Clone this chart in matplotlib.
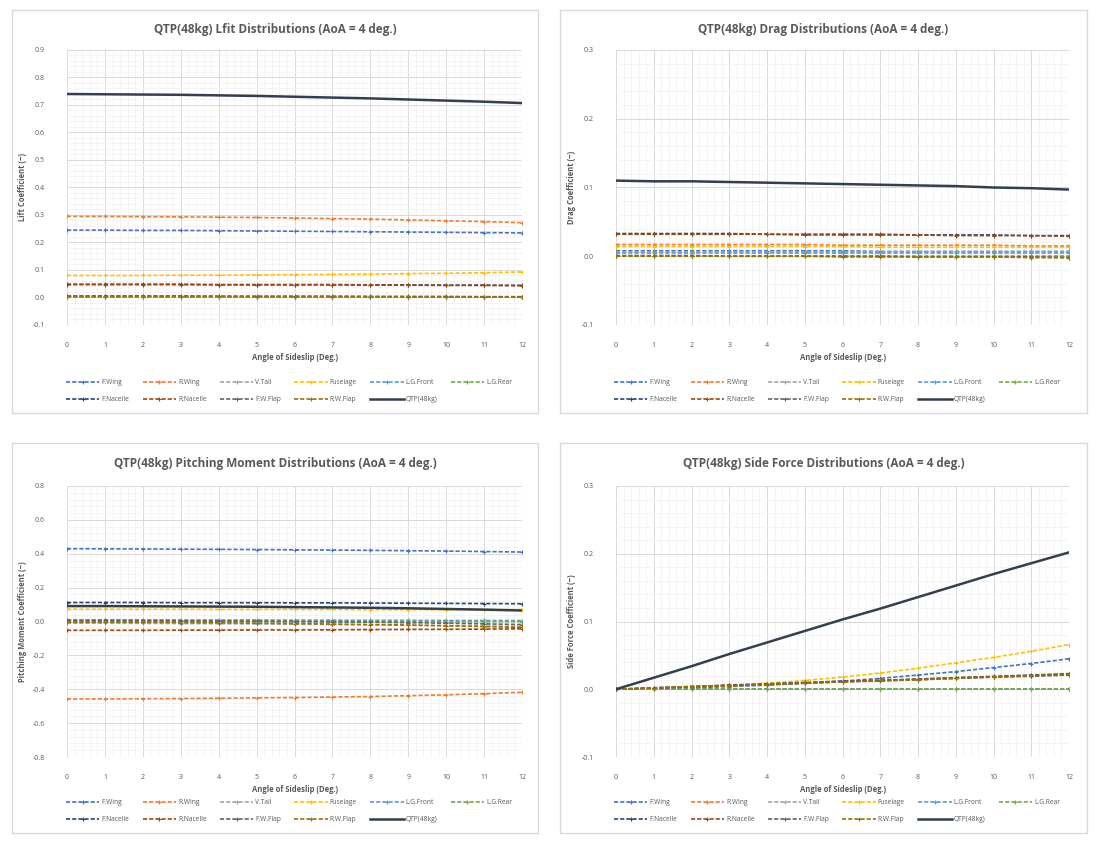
import matplotlib
matplotlib.use('Agg')
import matplotlib.pyplot as plt
from matplotlib.patches import Rectangle
from matplotlib.ticker import MultipleLocator

plt.rcParams['font.family'] = ['Open Sans', 'DejaVu Sans']

# angle of sideslip (deg)
beta = [0, 1, 2, 3, 4, 5, 6, 7, 8, 9, 10, 11, 12]

names = ['F.Wing', 'R.Wing', 'V.Tail', 'Fuselage', 'L.G.Front', 'L.G.Rear',
         'F.Nacelle', 'R.Nacelle', 'F.W.Flap', 'R.W.Flap', 'QTP(48kg)']
colors = ['#4472C4', '#ED7D31', '#A5A5A5', '#FFC000', '#5B9BD5', '#70AD47',
          '#264478', '#9E480E', '#636363', '#997300', '#333F50']

# ---- lift coefficient
cl_fwing = [0.245, 0.245, 0.244, 0.244, 0.243, 0.242, 0.241, 0.240, 0.239, 0.238, 0.237, 0.236, 0.235]
cl_rwing = [0.295, 0.295, 0.294, 0.293, 0.292, 0.291, 0.289, 0.287, 0.285, 0.282, 0.279, 0.276, 0.272]
cl_vtail = [0.000, 0.000, 0.000, 0.000, 0.000, 0.000, 0.000, 0.000, 0.000, 0.000, 0.000, 0.000, 0.000]
cl_fuse = [0.080, 0.080, 0.080, 0.081, 0.081, 0.082, 0.083, 0.084, 0.085, 0.087, 0.088, 0.090, 0.093]
cl_lgf = [0.001, 0.001, 0.001, 0.001, 0.001, 0.001, 0.001, 0.001, 0.001, 0.001, 0.001, 0.001, 0.001]
cl_lgr = [0.002, 0.002, 0.002, 0.002, 0.002, 0.002, 0.002, 0.002, 0.002, 0.002, 0.002, 0.002, 0.002]
cl_fnac = [0.048, 0.048, 0.048, 0.048, 0.047, 0.047, 0.047, 0.047, 0.046, 0.046, 0.045, 0.045, 0.044]
cl_rnac = [0.047, 0.047, 0.047, 0.047, 0.046, 0.046, 0.046, 0.046, 0.045, 0.045, 0.044, 0.044, 0.043]
cl_fwf = [0.006, 0.006, 0.006, 0.006, 0.005, 0.005, 0.005, 0.005, 0.004, 0.004, 0.004, 0.003, 0.003]
cl_rwf = [0.004, 0.004, 0.004, 0.004, 0.004, 0.003, 0.003, 0.003, 0.003, 0.002, 0.002, 0.002, 0.002]
cl_qtp = [0.740, 0.739, 0.738, 0.737, 0.735, 0.733, 0.730, 0.727, 0.724, 0.720, 0.716, 0.712, 0.707]

# ---- drag coefficient
cd_fwing = [0.008, 0.008, 0.008, 0.008, 0.008, 0.008, 0.008, 0.007, 0.007, 0.007, 0.007, 0.007, 0.007]
cd_rwing = [0.017, 0.017, 0.017, 0.017, 0.017, 0.017, 0.016, 0.016, 0.016, 0.016, 0.016, 0.015, 0.015]
cd_vtail = [0.006, 0.006, 0.006, 0.006, 0.006, 0.006, 0.006, 0.006, 0.006, 0.006, 0.006, 0.006, 0.006]
cd_fuse = [0.014, 0.014, 0.014, 0.014, 0.014, 0.014, 0.014, 0.013, 0.013, 0.013, 0.013, 0.013, 0.013]
cd_lgf = [0.005, 0.005, 0.005, 0.005, 0.005, 0.005, 0.005, 0.005, 0.005, 0.005, 0.005, 0.005, 0.005]
cd_lgr = [0.001, 0.001, 0.001, 0.001, 0.001, 0.001, 0.001, 0.001, 0.001, 0.001, 0.001, 0.001, 0.001]
cd_fnac = [0.033, 0.033, 0.033, 0.033, 0.032, 0.032, 0.032, 0.032, 0.031, 0.031, 0.031, 0.030, 0.030]
cd_rnac = [0.032, 0.032, 0.032, 0.032, 0.032, 0.031, 0.031, 0.031, 0.031, 0.030, 0.030, 0.030, 0.029]
cd_fwf = [0.001, 0.001, 0.001, 0.000, 0.000, 0.000, 0.000, 0.000, -0.001, -0.001, -0.001, -0.001, -0.002]
cd_rwf = [0.000, 0.000, 0.000, 0.000, 0.000, 0.000, -0.001, -0.001, -0.001, -0.001, -0.001, -0.002, -0.002]
cd_qtp = [0.110, 0.109, 0.109, 0.108, 0.107, 0.106, 0.105, 0.104, 0.103, 0.102, 0.100, 0.099, 0.097]

# ---- pitching moment coefficient
cm_fwing = [0.430, 0.429, 0.428, 0.427, 0.426, 0.425, 0.423, 0.422, 0.420, 0.418, 0.416, 0.413, 0.410]
cm_rwing = [-0.457, -0.457, -0.456, -0.455, -0.453, -0.451, -0.449, -0.446, -0.443, -0.438, -0.433, -0.426, -0.418]
cm_vtail = [-0.010, -0.010, -0.011, -0.012, -0.013, -0.014, -0.016, -0.018, -0.020, -0.022, -0.025, -0.027, -0.030]
cm_fuse = [0.072, 0.072, 0.072, 0.072, 0.071, 0.071, 0.071, 0.071, 0.070, 0.070, 0.070, 0.070, 0.070]
cm_lgf = [0.010, 0.010, 0.010, 0.009, 0.009, 0.009, 0.008, 0.008, 0.007, 0.007, 0.006, 0.006, 0.005]
cm_lgr = [0.002, 0.002, 0.002, 0.002, 0.002, 0.001, 0.001, 0.001, 0.001, 0.001, 0.000, 0.000, 0.000]
cm_fnac = [0.112, 0.112, 0.112, 0.111, 0.111, 0.111, 0.110, 0.110, 0.109, 0.108, 0.107, 0.106, 0.105]
cm_rnac = [-0.052, -0.052, -0.052, -0.051, -0.051, -0.050, -0.050, -0.049, -0.048, -0.047, -0.046, -0.045, -0.043]
cm_fwf = [0.006, 0.006, 0.005, 0.004, 0.003, 0.002, 0.000, -0.002, -0.004, -0.007, -0.010, -0.014, -0.018]
cm_rwf = [-0.004, -0.004, -0.005, -0.006, -0.008, -0.010, -0.012, -0.015, -0.018, -0.021, -0.025, -0.030, -0.035]
cm_qtp = [0.091, 0.091, 0.090, 0.089, 0.088, 0.087, 0.085, 0.083, 0.081, 0.078, 0.074, 0.070, 0.065]

# ---- side force coefficient
cy_fwing = [0.000, 0.001, 0.002, 0.004, 0.006, 0.009, 0.012, 0.016, 0.021, 0.026, 0.032, 0.038, 0.045]
cy_rwing = [0.000, 0.000, 0.000, 0.000, 0.000, 0.000, 0.000, 0.000, 0.000, 0.000, 0.000, 0.000, 0.000]
cy_vtail = [0.000, 0.000, 0.000, 0.000, 0.000, 0.000, 0.000, 0.000, 0.000, 0.000, 0.000, 0.000, 0.000]
cy_fuse = [0.000, 0.001, 0.003, 0.006, 0.009, 0.013, 0.018, 0.024, 0.031, 0.039, 0.047, 0.056, 0.066]
cy_lgf = [0.000, 0.000, 0.000, 0.000, 0.000, 0.000, 0.000, 0.000, 0.000, 0.000, 0.000, 0.000, 0.000]
cy_lgr = [0.000, 0.000, 0.000, 0.000, 0.000, 0.000, 0.000, 0.000, 0.000, 0.000, 0.000, 0.000, 0.000]
cy_fnac = [0.000, 0.002, 0.004, 0.006, 0.008, 0.010, 0.012, 0.013, 0.015, 0.017, 0.019, 0.021, 0.023]
cy_rnac = [0.000, 0.002, 0.004, 0.006, 0.007, 0.009, 0.011, 0.013, 0.015, 0.017, 0.018, 0.020, 0.022]
cy_fwf = [0.000, 0.002, 0.003, 0.005, 0.007, 0.009, 0.011, 0.012, 0.014, 0.016, 0.018, 0.019, 0.021]
cy_rwf = [0.000, 0.002, 0.004, 0.005, 0.007, 0.009, 0.011, 0.013, 0.014, 0.016, 0.018, 0.020, 0.022]
cy_qtp = [0.000, 0.017, 0.034, 0.052, 0.069, 0.086, 0.103, 0.119, 0.136, 0.153, 0.170, 0.186, 0.202]

panels = [
    dict(title='QTP(48kg) Lfit Distributions (AoA = 4 deg.)', ylabel='Lift Coefficient (~)',
         ylim=(-0.1, 0.9), major=0.1,
         data=[cl_fwing, cl_rwing, cl_vtail, cl_fuse, cl_lgf, cl_lgr, cl_fnac, cl_rnac, cl_fwf, cl_rwf, cl_qtp]),
    dict(title='QTP(48kg) Drag Distributions (AoA = 4 deg.)', ylabel='Drag Coefficient (~)',
         ylim=(-0.1, 0.3), major=0.1,
         data=[cd_fwing, cd_rwing, cd_vtail, cd_fuse, cd_lgf, cd_lgr, cd_fnac, cd_rnac, cd_fwf, cd_rwf, cd_qtp]),
    dict(title='QTP(48kg) Pitching Moment Distributions (AoA = 4 deg.)', ylabel='Pitching Moment Coefficient (~)',
         ylim=(-0.8, 0.8), major=0.2,
         data=[cm_fwing, cm_rwing, cm_vtail, cm_fuse, cm_lgf, cm_lgr, cm_fnac, cm_rnac, cm_fwf, cm_rwf, cm_qtp]),
    dict(title='QTP(48kg) Side Force Distributions (AoA = 4 deg.)', ylabel='Side Force Coefficient (~)',
         ylim=(-0.1, 0.3), major=0.1,
         data=[cy_fwing, cy_rwing, cy_vtail, cy_fuse, cy_lgf, cy_lgr, cy_fnac, cy_rnac, cy_fwf, cy_rwf, cy_qtp]),
]

W, H = 1099, 848
fig = plt.figure(figsize=(W / 100, H / 100), dpi=100)

# pixel boxes: (panel box), (plot area)
boxes = [((12, 10, 538, 413), (67, 50, 522, 325)),
         ((560, 10, 1087, 413), (616, 50, 1069, 325)),
         ((12, 443, 538, 833), (67, 486, 522, 757)),
         ((560, 443, 1087, 833), (616, 486, 1069, 757))]

txt = '#595959'
order = [0, 6, 1, 7, 2, 8, 3, 9, 4, 10, 5]

for p, (pb, ab) in zip(panels, boxes):
    # chart border
    fig.add_artist(Rectangle((pb[0] / W, 1 - pb[3] / H), (pb[2] - pb[0]) / W, (pb[3] - pb[1]) / H,
                             transform=fig.transFigure, fill=False, edgecolor='#D9D9D9', lw=1))
    ax = fig.add_axes([ab[0] / W, 1 - ab[3] / H, (ab[2] - ab[0]) / W, (ab[3] - ab[1]) / H])
    handles = []
    for i, (name, c, y) in enumerate(zip(names, colors, p['data'])):
        if i == 10:
            h, = ax.plot(beta, y, color=c, lw=1.8, label=name, zorder=5)
        else:
            h, = ax.plot(beta, y, color=c, lw=1.2, ls=(0, (2.5, 1.2)), marker='+', ms=3, mew=0.8,
                         label=name, zorder=3)
        handles.append(h)

    ax.set_xlim(0, 12)
    ax.set_ylim(*p['ylim'])
    ax.xaxis.set_major_locator(MultipleLocator(1))
    ax.xaxis.set_minor_locator(MultipleLocator(0.2))
    ax.yaxis.set_major_locator(MultipleLocator(p['major']))
    ax.yaxis.set_minor_locator(MultipleLocator(p['major'] / 5))
    ax.yaxis.set_major_formatter(plt.FuncFormatter(lambda v, pos: '%.1f' % v))
    ax.grid(which='major', color='#D9D9D9', lw=0.7)
    ax.grid(which='minor', color='#F2F2F2', lw=0.6)
    ax.set_axisbelow(True)
    for s in ax.spines.values():
        s.set_visible(False)
    ax.tick_params(which='both', length=0, labelsize=5, colors=txt)
    ax.tick_params(axis='x', pad=12)
    ax.tick_params(axis='y', pad=16)

    ax.set_xlabel('Angle of Sideslip (Deg.)', fontsize=5.5, color=txt, fontweight='bold', labelpad=3)
    ax.set_ylabel(p['ylabel'], fontsize=5.5, color=txt, fontweight='bold', labelpad=4)

    cx = (pb[0] + pb[2]) / 2 / W
    fig.text(cx, 1 - (pb[1] + 20) / H, p['title'], ha='center', va='center',
             fontsize=8.5, fontweight='bold', color=txt)

    leg = fig.legend([handles[k] for k in order], [names[k] for k in order],
                     loc='center', bbox_to_anchor=((pb[0] + 277) / W, 1 - (pb[3] - 22) / H),
                     ncol=6, fontsize=4.8, frameon=False, handlelength=5.0, handletextpad=0.3,
                     columnspacing=2.0, labelspacing=1.5, labelcolor=txt)

fig.savefig('out.png', dpi=100, facecolor='white')
